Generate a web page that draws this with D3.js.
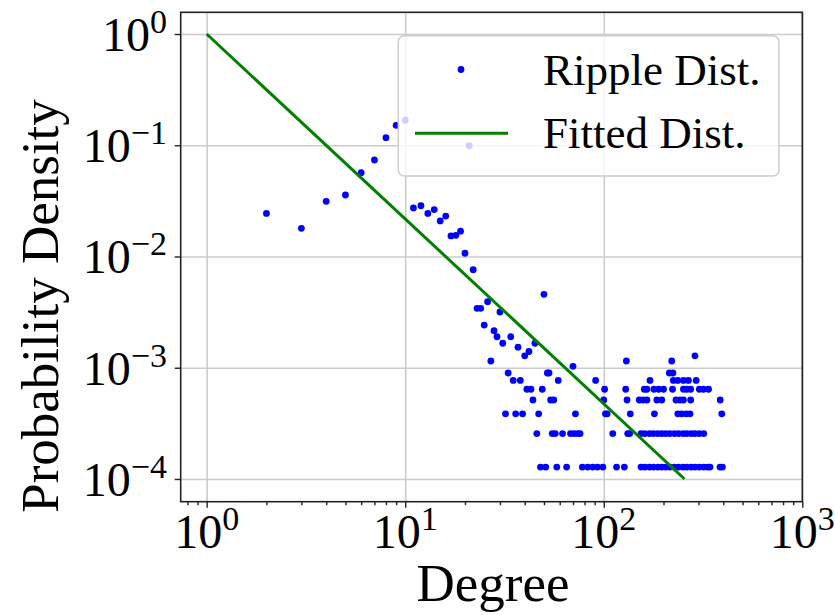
<!DOCTYPE html>
<html>
<head>
<meta charset="utf-8">
<script src="https://cdn.jsdelivr.net/npm/d3@7"></script>
<style>
  body { margin: 0; background: #fff; }
  svg { display: block; font-family: "Liberation Serif", "Times New Roman", serif; }
</style>
</head>
<body>
<div id="chart"></div>
<script>
// head of the distribution, one point per degree
const degree = [
  2, 3, 4, 5, 6, 7, 8, 9, 10, 11, 12, 13, 14, 15, 16, 17, 18, 19, 20, 21, 22,
  23, 24, 25, 26, 27, 28, 29, 30, 31, 32, 33, 34, 35, 36, 37, 38, 39, 40, 41,
  42, 43, 44, 45, 46, 47, 48, 49, 50, 51, 52, 53, 54, 55, 56, 57, 58, 59,
  62, 65, 68, 70, 71, 72, 74, 76, 78, 83, 88, 91, 93, 99, 100, 101, 102, 104,
  111, 116, 127, 129, 130, 131, 132, 135, 136
];
const density = [
  0.0244, 0.0179, 0.0313, 0.0357, 0.0567, 0.0737, 0.117, 0.151, 0.168, 0.0273,
  0.0286, 0.0244, 0.0264, 0.0209, 0.0231, 0.0153, 0.0155, 0.0169, 0.0107, 0.099, 0.0076,
  0.00342, 0.00342, 0.00242, 0.00392, 0.00115, 0.00215, 0.0019, 0.00317, 0.00166, 0.000385,
  0.000897, 0.0019, 0.000769, 0.000385, 0.00153, 0.000769, 0.000385, 0.00128, 0.000641,
  0.0014, 0.000641, 0.000513, 0.00166, 0.000256, 0.000385, 0.000128, 0.000641, 0.00457,
  0.000128, 0.000897, 0.000897, 0.000513, 0.000256, 0.000513, 0.000256, 0.000128, 0.000769,
  0.000256, 0.000128, 0.000256, 0.00103, 0.000256, 0.000385, 0.000256, 0.000256, 0.000128,
  0.000128, 0.000128, 0.000769, 0.000128, 0.000128, 0.000513, 0.000641, 0.000385, 0.000385,
  0.000256, 0.000128, 0.000128, 0.000641, 0.00115, 0.000513, 0.000256, 0.000256, 0.000385
];

// tail: the density levels and the degrees sitting on each level
const tailDensity = [0.00128, 0.00115, 0.000897, 0.000769, 0.000641, 0.000513, 0.000385, 0.000256, 0.000128];
const tailDegree = [
  [288],
  [220],
  [214, 223],
  [171, 224, 236, 252, 267, 292],
  [160, 165, 179, 189, 200, 222, 252, 262, 274, 303, 318, 337],
  [151, 158, 165, 185, 196, 231, 242, 252, 274, 386],
  [180, 236, 247, 260, 272, 393],
  [154, 161, 170, 178, 187, 196, 205, 215, 227, 238, 251, 262, 276, 288, 303, 319],
  [154, 161, 170, 178, 187, 196, 205, 215, 227, 238, 251, 262, 276, 288, 303, 319, 334, 343, 385, 396]
];

// fitted power law, end points
const fitDegree = [1, 255];
const fitDensity = [1, 0.0001];

const xTicks = [1, 10, 100, 1000];
const xTickExp = ['0', '1', '2', '3'];
const yTicks = [1, 0.1, 0.01, 0.001, 0.0001];
const yTickExp = ['0', '\u22121', '\u22122', '\u22123', '\u22124'];
const seriesNames = ['Ripple Dist.', 'Fitted Dist.'];

const width = 835, height = 615;
const plot = { left: 180.7, right: 802.3, top: 12.3, bottom: 501.7 };
const blue = '#0000ff', green = '#008000';

const points = degree.map((d, i) => ({ d: d, p: density[i] }));
tailDensity.forEach((p, i) => {
  tailDegree[i].forEach(d => points.push({ d: d, p: p }));
});

const x = d3.scaleLog().domain([0.74, 1000]).range([plot.left, plot.right]);
const y = d3.scaleLog().domain([6.25e-5, 1.567]).range([plot.bottom, plot.top]);

const svg = d3.select('#chart')
  .append('svg')
  .attr('width', width)
  .attr('height', height);

// grid
svg.append('g')
  .attr('transform', `translate(0,${plot.bottom})`)
  .call(d3.axisBottom(x).tickValues(xTicks).tickSize(-(plot.bottom - plot.top)).tickFormat(''))
  .call(g => g.select('.domain').remove())
  .selectAll('line')
  .attr('stroke', '#cccccc')
  .attr('stroke-width', 1.6);

svg.append('g')
  .attr('transform', `translate(${plot.left},0)`)
  .call(d3.axisLeft(y).tickValues(yTicks).tickSize(-(plot.right - plot.left)).tickFormat(''))
  .call(g => g.select('.domain').remove())
  .selectAll('line')
  .attr('stroke', '#cccccc')
  .attr('stroke-width', 1.6);

// scatter
svg.append('g')
  .selectAll('circle')
  .data(points)
  .enter()
  .append('circle')
  .attr('cx', d => x(d.d))
  .attr('cy', d => y(d.p))
  .attr('r', 3.4)
  .attr('fill', blue);

// fitted line
const line = d3.line()
  .x(d => x(d[0]))
  .y(d => y(d[1]));

svg.append('path')
  .datum(fitDegree.map((d, i) => [d, fitDensity[i]]))
  .attr('fill', 'none')
  .attr('stroke', green)
  .attr('stroke-width', 3)
  .attr('d', line);

// axes ticks
const minorTicks = [];
[0.1, 1, 10, 100].forEach(base => {
  for (let k = 2; k <= 9; k++) {
    const v = base * k;
    if (v >= x.domain()[0] && v <= x.domain()[1]) minorTicks.push(v);
  }
});

const xAxisG = svg.append('g')
  .attr('transform', `translate(0,${plot.bottom})`);
xAxisG.append('g')
  .call(d3.axisBottom(x).tickValues(minorTicks).tickSize(3.5).tickFormat(''))
  .call(g => g.select('.domain').remove());
xAxisG.append('g')
  .call(d3.axisBottom(x).tickValues(xTicks).tickSize(6).tickFormat(''))
  .call(g => g.select('.domain').remove());
xAxisG.selectAll('line').attr('stroke', '#222').attr('stroke-width', 1.4);

const yAxisG = svg.append('g')
  .attr('transform', `translate(${plot.left},0)`);
yAxisG.call(d3.axisLeft(y).tickValues(yTicks).tickSize(6).tickFormat(''))
  .call(g => g.select('.domain').remove());
yAxisG.selectAll('line').attr('stroke', '#222').attr('stroke-width', 1.4);

// frame
svg.append('rect')
  .attr('x', plot.left)
  .attr('y', plot.top)
  .attr('width', plot.right - plot.left)
  .attr('height', plot.bottom - plot.top)
  .attr('fill', 'none')
  .attr('stroke', '#222')
  .attr('stroke-width', 1.6);

// tick labels, 10 with a raised exponent
function powerLabel(sel, exp) {
  sel.append('tspan').text('10');
  sel.append('tspan')
    .attr('dy', -18)
    .attr('font-size', 34)
    .text(exp);
}

xTicks.forEach((v, i) => {
  svg.append('text')
    .attr('x', x(v))
    .attr('y', plot.bottom + 46)
    .attr('text-anchor', 'middle')
    .attr('font-size', 48)
    .attr('fill', '#000')
    .call(powerLabel, xTickExp[i]);
});

yTicks.forEach((v, i) => {
  svg.append('text')
    .attr('x', 167)
    .attr('y', y(v) + 17)
    .attr('text-anchor', 'end')
    .attr('font-size', 48)
    .attr('fill', '#000')
    .call(powerLabel, yTickExp[i]);
});

// axis titles
svg.append('text')
  .attr('x', 493)
  .attr('y', 601)
  .attr('text-anchor', 'middle')
  .attr('font-size', 53)
  .text('Degree');

svg.append('text')
  .attr('transform', 'translate(58,306) rotate(-90)')
  .attr('text-anchor', 'middle')
  .attr('font-size', 53)
  .text('Probability Density');

// legend
const legend = svg.append('g');
legend.append('rect')
  .attr('x', 398.3)
  .attr('y', 35.7)
  .attr('width', 380.7)
  .attr('height', 140.3)
  .attr('rx', 6)
  .attr('fill', '#fff')
  .attr('fill-opacity', 0.8)
  .attr('stroke', '#cccccc')
  .attr('stroke-width', 1.4);

legend.append('circle')
  .attr('cx', 461)
  .attr('cy', 69.5)
  .attr('r', 3.4)
  .attr('fill', blue);

legend.append('line')
  .attr('x1', 415)
  .attr('x2', 508)
  .attr('y1', 133.3)
  .attr('y2', 133.3)
  .attr('stroke', green)
  .attr('stroke-width', 3);

legend.selectAll('text')
  .data(seriesNames)
  .enter()
  .append('text')
  .attr('x', 543)
  .attr('y', (d, i) => i === 0 ? 85 : 148.3)
  .attr('font-size', 45)
  .attr('fill', '#000')
  .text(d => d);
</script>
</body>
</html>
